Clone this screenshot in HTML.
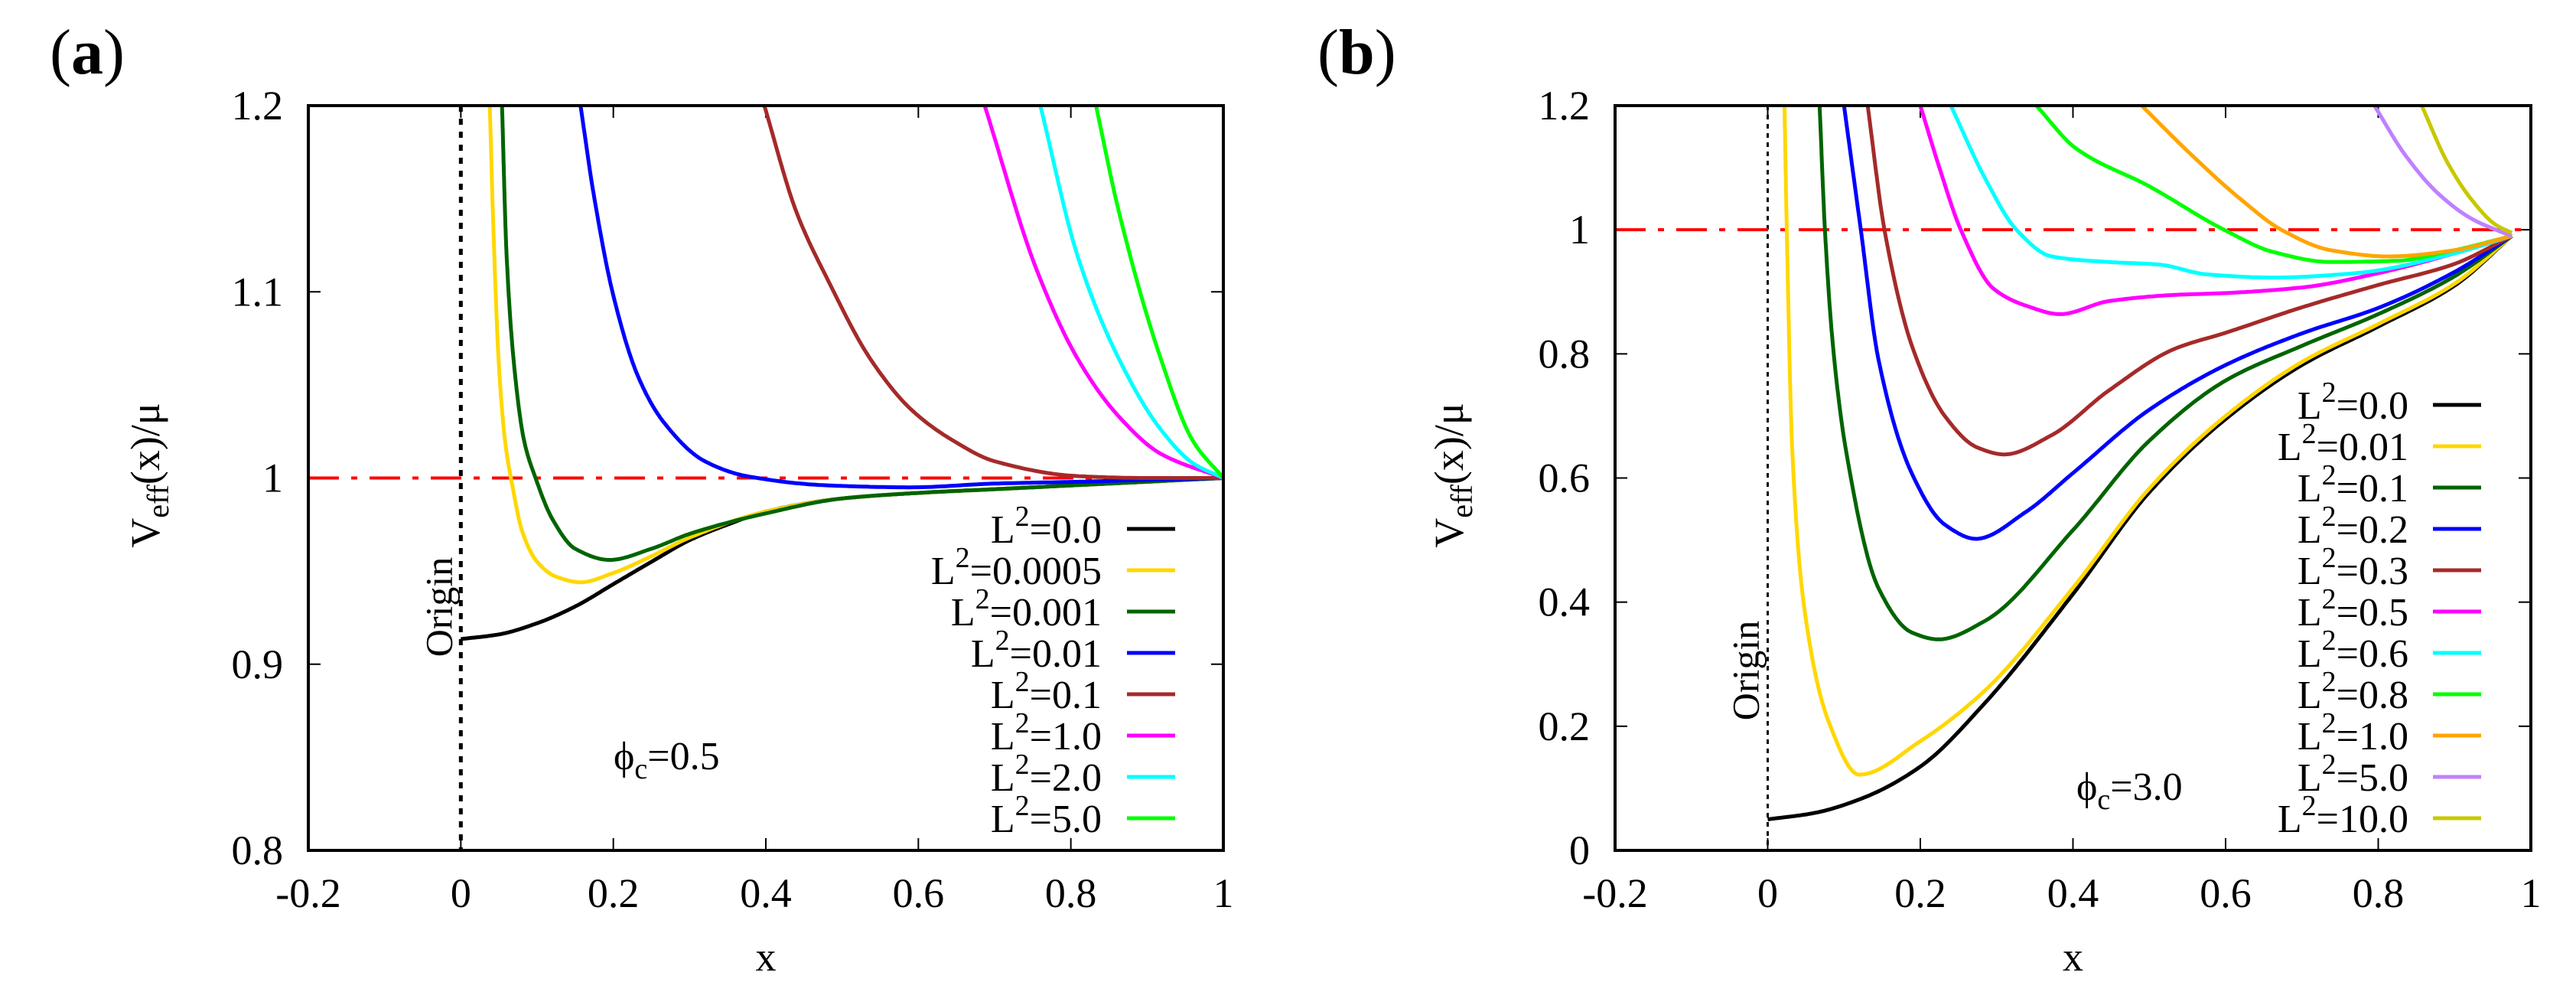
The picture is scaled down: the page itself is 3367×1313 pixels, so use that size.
<!DOCTYPE html>
<html><head><meta charset="utf-8"><style>
html,body{margin:0;padding:0;background:#fff;}
svg, svg text{font-family:"Liberation Serif","Times New Roman",serif;}
</style></head><body>
<svg id="fig" width="3367" height="1308" viewBox="0 0 3367 1308" xmlns="http://www.w3.org/2000/svg" font-family="Liberation Serif, serif">
<text x="65" y="96" font-size="84" font-family="Liberation Serif, serif">(<tspan font-weight="bold">a</tspan>)</text>
<text x="1722" y="96" font-size="84" font-family="Liberation Serif, serif">(<tspan font-weight="bold">b</tspan>)</text>
<g id="pa"></g>
<g id="pb"></g>
</svg>
<script>
// ---- Panel (a) data ----
const aLabels = ["0.0","0.0005","0.001","0.01","0.1","1.0","2.0","5.0"];
const aColors = ["#000000","#ffd700","#006400","#0000ff","#a52a2a","#ff00ff","#00ffff","#00ff00"];
const aBlack = [[0,0.9135],[0.05,0.916],[0.1,0.922],[0.15,0.931],[0.2,0.943],[0.25,0.955],[0.3,0.9666],[0.35,0.975],[0.4,0.982],[0.5,0.989],[0.6,0.992],[0.7,0.994],[0.8,0.996],[0.9,0.998],[1,1]];
const aY0005 = [[0.038,1.2],[0.043,1.13],[0.05,1.06],[0.058,1.02],[0.068,0.995],[0.08,0.972],[0.1,0.955],[0.125,0.947],[0.157,0.944],[0.2,0.949],[0.25,0.958],[0.3,0.968],[0.4,0.982],[0.5,0.989],[0.6,0.992],[0.7,0.994],[0.8,0.996],[0.9,0.998],[1,1]];
const aG001 = [[0.054,1.2],[0.06,1.12],[0.07,1.06],[0.083,1.02],[0.098,1.0],[0.12,0.978],[0.15,0.962],[0.195,0.956],[0.25,0.962],[0.3,0.97],[0.4,0.981],[0.5,0.989],[0.6,0.992],[0.7,0.994],[0.8,0.996],[0.9,0.998],[1,1]];
const aB01 = [[0.157,1.2],[0.174,1.153],[0.2,1.098],[0.233,1.054],[0.266,1.03],[0.32,1.009],[0.375,1.001],[0.483,0.996],[0.59,0.995],[0.7,0.997],[0.81,0.998],[0.9,0.999],[1,1]];
const aR1 = [[0.398,1.2],[0.44,1.143],[0.483,1.105],[0.537,1.064],[0.59,1.037],[0.646,1.02],[0.7,1.009],[0.81,1.001],[0.9,1.0],[1,1]];
const aM10 = [[0.687,1.2],[0.755,1.112],[0.809,1.064],[0.863,1.033],[0.918,1.013],[1,1]];
const aC20 = [[0.76,1.2],[0.809,1.119],[0.863,1.064],[0.918,1.026],[0.96,1.008],[1,1]];
const aL50 = [[0.833,1.2],[0.863,1.143],[0.918,1.064],[0.96,1.02],[1,1]];
const aSeries = [aBlack,aY0005,aG001,aB01,aR1,aM10,aC20,aL50];
const aXTicks = [-0.2,0,0.2,0.4,0.6,0.8,1];
const aXTickLabels = ["-0.2","0","0.2","0.4","0.6","0.8","1"];
const aYTicks = [0.8,0.9,1.0,1.1,1.2];
const aYTickLabels = ["0.8","0.9","1","1.1","1.2"];

// ---- Panel (b) data ----
const bLabels = ["0.0","0.01","0.1","0.2","0.3","0.5","0.6","0.8","1.0","5.0","10.0"];
const bColors = ["#000000","#ffd700","#006400","#0000ff","#a52a2a","#ff00ff","#00ffff","#00ff00","#ffa500","#c080ff","#c8c800"];
const bBlack = [[0,0.05],[0.06,0.06],[0.124,0.084],[0.2,0.135],[0.285,0.238],[0.4,0.413],[0.5,0.577],[0.6,0.695],[0.7,0.782],[0.8,0.844],[0.9,0.91],[0.975,0.99]];
const bY001 = [[0.022,1.2],[0.025,1.0],[0.032,0.65],[0.048,0.39],[0.08,0.207],[0.12,0.122],[0.2,0.176],[0.285,0.258],[0.4,0.423],[0.5,0.583],[0.6,0.7],[0.7,0.787],[0.8,0.848],[0.9,0.913],[0.975,0.99]];
const bG01 = [[0.068,1.2],[0.075,1.0],[0.085,0.82],[0.102,0.649],[0.145,0.423],[0.189,0.351],[0.224,0.34],[0.285,0.37],[0.4,0.516],[0.5,0.66],[0.6,0.757],[0.7,0.813],[0.8,0.864],[0.9,0.925],[0.975,0.99]];
const bB02 = [[0.1,1.2],[0.122,1.0],[0.145,0.792],[0.189,0.607],[0.232,0.525],[0.273,0.502],[0.339,0.546],[0.4,0.608],[0.5,0.71],[0.6,0.782],[0.7,0.833],[0.8,0.874],[0.9,0.932],[0.975,0.99]];
const bR03 = [[0.131,1.2],[0.153,1.0],[0.189,0.813],[0.232,0.7],[0.275,0.649],[0.31,0.638],[0.372,0.669],[0.447,0.741],[0.533,0.808],[0.6,0.834],[0.7,0.875],[0.8,0.911],[0.9,0.945],[0.975,0.99]];
const bM05 = [[0.2,1.2],[0.225,1.1],[0.253,1.0],[0.296,0.905],[0.34,0.877],[0.383,0.864],[0.447,0.885],[0.533,0.895],[0.6,0.898],[0.7,0.907],[0.8,0.93],[0.9,0.962],[0.975,0.99]];
const bC06 = [[0.24,1.2],[0.286,1.08],[0.326,1.0],[0.372,0.957],[0.447,0.948],[0.512,0.944],[0.576,0.928],[0.663,0.923],[0.77,0.93],[0.9,0.962],[0.975,0.99]];
const bL08 = [[0.352,1.2],[0.404,1.131],[0.5,1.07],[0.598,1.0],[0.663,0.964],[0.738,0.948],[0.824,0.95],[0.9,0.967],[0.975,0.99]];
const bO10 = [[0.49,1.2],[0.555,1.121],[0.62,1.049],[0.673,1.0],[0.738,0.967],[0.814,0.957],[0.9,0.967],[0.975,0.99]];
const bP50 = [[0.795,1.2],[0.835,1.121],[0.878,1.059],[0.922,1.018],[0.954,1.0],[0.975,0.99]];
const bO100 = [[0.857,1.2],[0.89,1.11],[0.922,1.049],[0.954,1.008],[0.975,0.995]];
const bSeries = [bBlack,bY001,bG01,bB02,bR03,bM05,bC06,bL08,bO10,bP50,bO100];
const bXTicks = [-0.2,0,0.2,0.4,0.6,0.8,1];
const bXTickLabels = ["-0.2","0","0.2","0.4","0.6","0.8","1"];
const bYTicks = [0,0.2,0.4,0.6,0.8,1.0,1.2];
const bYTickLabels = ["0","0.2","0.4","0.6","0.8","1","1.2"];

const NS = "http://www.w3.org/2000/svg";
const FF = "Liberation Serif, serif";
function mk(parent, tag, attrs){
  const e = document.createElementNS(NS, tag);
  for (const k in attrs) e.setAttribute(k, attrs[k]);
  if (tag === "text") e.setAttribute("font-family", FF);
  parent.appendChild(e); return e;
}
// monotone cubic interpolation in data space, sampled densely
function interp(data){
  const n = data.length, xs = data.map(p=>p[0]), ys = data.map(p=>p[1]);
  const d = [], m = new Array(n);
  for (let i=0;i<n-1;i++) d.push((ys[i+1]-ys[i])/(xs[i+1]-xs[i]));
  m[0]=d[0]; m[n-1]=d[n-2];
  for (let i=1;i<n-1;i++){
    if (d[i-1]*d[i] <= 0) m[i]=0;
    else { const w1=2*(xs[i+1]-xs[i])+(xs[i]-xs[i-1]), w2=(xs[i+1]-xs[i])+2*(xs[i]-xs[i-1]);
      m[i]=(w1+w2)/(w1/d[i-1]+w2/d[i]); }
  }
  const out=[];
  for (let i=0;i<n-1;i++){
    const h=xs[i+1]-xs[i], steps=24;
    for (let k=(i===0?0:1);k<=steps;k++){
      const t=k/steps, t2=t*t, t3=t2*t;
      const y=(2*t3-3*t2+1)*ys[i]+(t3-2*t2+t)*h*m[i]+(-2*t3+3*t2)*ys[i+1]+(t3-t2)*h*m[i+1];
      out.push([xs[i]+t*h, y]);
    }
  }
  return out;
}

function panel(g, cfg){
  const L=cfg.left, R=cfg.right, T=138, B=1111;
  const sx = v => L + (v - (-0.2)) / 1.2 * (R - L);
  const sy = v => B - (v - cfg.ymin) / (cfg.ymax - cfg.ymin) * (B - T);
  const defs = mk(g,"clipPath",{id:cfg.id+"clip"});
  mk(defs,"rect",{x:L,y:T,width:R-L,height:B-T});
  cfg.xt.forEach((v,i)=>{
    const x = sx(v);
    const t1 = mk(g,"line",{x1:x,y1:B,x2:x,y2:B-16,stroke:"#000","stroke-width":2});
    
    
    mk(g,"line",{x1:x,y1:T,x2:x,y2:T+16,stroke:"#000","stroke-width":2});
    const tx = mk(g,"text",{x:x,y:1185,"font-size":54,"text-anchor":"middle"});
    tx.textContent = cfg.xtl[i];
    
    
  });
  cfg.yt.forEach((v,i)=>{
    const y = sy(v);
    const t1 = mk(g,"line",{x1:L,y1:y,x2:L+16,y2:y,stroke:"#000","stroke-width":2});
    
    
    mk(g,"line",{x1:R,y1:y,x2:R-16,y2:y,stroke:"#000","stroke-width":2});
    const tx = mk(g,"text",{x:cfg.ylabx,y:y+18,"font-size":54,"text-anchor":"end"});
    tx.textContent = cfg.ytl[i];
    
    
  });
  const ol = mk(g,"line",{x1:sx(0),y1:T,x2:sx(0),y2:B,stroke:"#000","stroke-width":cfg.originW,"stroke-dasharray":cfg.originDash});
  
  
  const rl = mk(g,"line",{x1:L,y1:sy(1),x2:R,y2:sy(1),stroke:"#ff0000","stroke-width":4,"stroke-dasharray":"40,16,8,16"});
  
  
  const sg = mk(g,"g",{"clip-path":"url(#"+cfg.id+"clip)"});
  cfg.series.forEach((s,i)=>{
    const pts = interp(s).map(p=>sx(p[0]).toFixed(1)+","+sy(p[1]).toFixed(1));
    const p = mk(sg,"path",{d:"M"+pts.join(" L"),fill:"none",stroke:cfg.colors[i],"stroke-width":5,"stroke-linejoin":"round"});
    
    
  });
  const fr = mk(g,"rect",{x:L,y:T,width:R-L,height:B-T,fill:"none",stroke:"#000","stroke-width":4});
  
  
  cfg.labels.forEach((lab,i)=>{
    const y = cfg.legY0 + i*54;
    const t = mk(g,"text",{x:cfg.legTextX,y:y+18,"font-size":52,"text-anchor":"end"});
    t.innerHTML = 'L<tspan dy="-22" font-size="38">2</tspan><tspan dy="22">='+lab+'</tspan>';
    
    
    const ln = mk(g,"line",{x1:cfg.legLineX,y1:y,x2:cfg.legLineX+63,y2:y,stroke:cfg.colors[i],"stroke-width":5});
    
    
  });
  const xt = mk(g,"text",{x:(L+R)/2,y:1268,"font-size":54,"text-anchor":"middle"});
  xt.textContent = "x";
  
  
  const yt = mk(g,"text",{x:0,y:0,"font-size":54,"text-anchor":"middle",transform:"translate("+(cfg.ytitleX)+",621) rotate(-90)"});
  yt.innerHTML = 'V<tspan dy="12" font-size="40">eff</tspan><tspan dy="-12">(x)/μ</tspan>';
  
  
  const og = mk(g,"text",{x:0,y:0,"font-size":50,"text-anchor":"middle",transform:"translate("+(sx(0)-12)+","+cfg.originY+") rotate(-90)"});
  og.textContent = "Origin";
  
  
  const ph = mk(g,"text",{x:cfg.phiX,y:cfg.phiY,"font-size":52});
  ph.innerHTML = 'ϕ<tspan dy="12" font-size="38">c</tspan><tspan dy="-12">='+cfg.phi+'</tspan>';
  
  
}

panel(document.getElementById("pa"),{id:"a",left:403,right:1599,ymin:0.8,ymax:1.2,xt:aXTicks,xtl:aXTickLabels,yt:aYTicks,ytl:aYTickLabels,ylabx:370,series:aSeries,colors:aColors,labels:aLabels,legY0:691,legTextX:1440,legLineX:1473,ytitleX:208,originW:5,originDash:"8,9",originY:793,phiX:802,phiY:1005,phi:"0.5"});
panel(document.getElementById("pb"),{id:"b",left:2111,right:3308,ymin:0,ymax:1.2,xt:bXTicks,xtl:bXTickLabels,yt:bYTicks,ytl:bYTickLabels,ylabx:2078,series:bSeries,colors:bColors,labels:bLabels,legY0:529,legTextX:3148,legLineX:3180,ytitleX:1912,originW:3,originDash:"6,6",originY:876,phiX:2714,phiY:1045,phi:"3.0"});
</script>
</body></html>
